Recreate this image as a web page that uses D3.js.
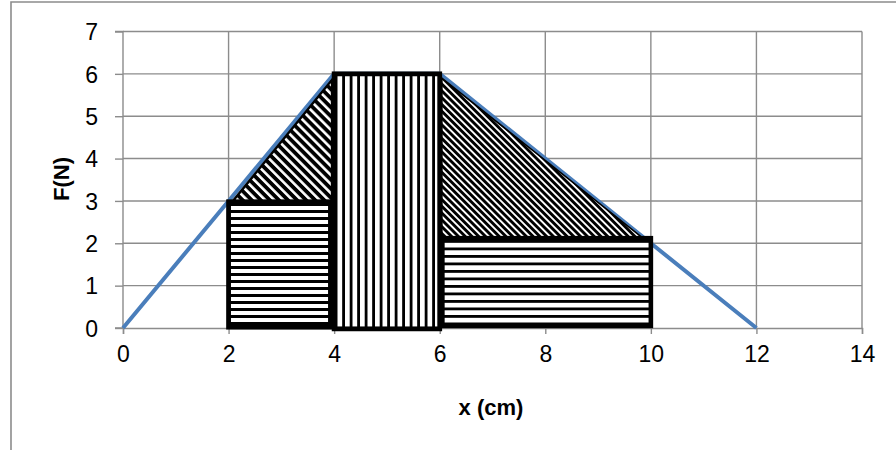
<!DOCTYPE html>
<html>
<head>
<meta charset="utf-8">
<script src="https://cdn.jsdelivr.net/npm/d3@7.9.0/dist/d3.min.js"></script>
<style>
  html, body { margin: 0; padding: 0; background: #fff; }
  svg { display: block; }
  text { font-family: "Liberation Sans", Arial, sans-serif; fill: #000; }
</style>
</head>
<body>
<svg id="chart" width="896" height="450"></svg>
<script>
// axis ticks
const xTicks = [0, 2, 4, 6, 8, 10, 12, 14];
const yTicks = [0, 1, 2, 3, 4, 5, 6, 7];

// F(x) curve, blue line
const forceX = [0, 2, 4, 6, 10, 12];
const forceY = [0, 3, 6, 6, 2, 0];

// hatched pieces (as drawn, in data units)
const rectLeft = { x0: 2, x1: 3.93, y0: 0.02, y1: 2.98 };
const rectMid = { x0: 4, x1: 6, y0: -0.02, y1: 6 };
const rectRight = { x0: 6.05, x1: 10, y0: 0.05, y1: 2.12 };
const triLeft = [[2.07, 2.98], [3.96, 5.86], [3.96, 2.98]];
const triRight = [[6.04, 5.9], [9.85, 2.12], [6.04, 2.12]];

const svg = d3.select('#chart');
const W = 896, H = 450;

const x = d3.scaleLinear().domain([0, 14]).range([123, 862]);
const y = d3.scaleLinear().domain([0, 7]).range([328, 31.5]);

const grid = '#8c8c8c';
const font = '"Liberation Sans", Arial, sans-serif';

// outer chart frame (only left and top are visible)
svg.append('path')
  .attr('d', `M11,${H} L11,2 L${W},2`)
  .attr('fill', 'none')
  .attr('stroke', grid)
  .attr('stroke-width', 1.6);

// hatch patterns
const defs = svg.append('defs');

function linePattern(id, size, width, angle, crisp) {
  const p = defs.append('pattern')
    .attr('id', id)
    .attr('patternUnits', 'userSpaceOnUse')
    .attr('width', size)
    .attr('height', size)
    .attr('patternTransform', `rotate(${angle})`);
  p.append('rect').attr('width', size).attr('height', size).attr('fill', '#fff');
  p.append('rect').attr('width', size).attr('height', width).attr('fill', '#000')
    .attr('shape-rendering', crisp ? 'crispEdges' : 'auto');
}

linePattern('hatch-h1', 7, 3, 0, true);
linePattern('hatch-h2', 7.5, 2.5, 0, true);
linePattern('hatch-v', 7.5, 2.5, 90, true);
linePattern('hatch-d1', 6.4, 3.8, 45, false);
linePattern('hatch-d2', 4.8, 2.9, 45, false);

// gridlines
svg.append('g')
  .selectAll('line')
  .data(yTicks.filter((d) => d > 0))
  .join('line')
  .attr('x1', x(0)).attr('x2', x(14))
  .attr('y1', (d) => y(d)).attr('y2', (d) => y(d))
  .attr('stroke', grid).attr('stroke-width', 1.4);

svg.append('g')
  .selectAll('line')
  .data(xTicks.filter((d) => d > 0))
  .join('line')
  .attr('x1', (d) => x(d)).attr('x2', (d) => x(d))
  .attr('y1', y(0)).attr('y2', y(7))
  .attr('stroke', grid).attr('stroke-width', 1.4);

// axes
const xAxis = d3.axisBottom(x).tickValues(xTicks).tickFormat(d3.format('d')).tickSize(6).tickPadding(12);
const yAxis = d3.axisLeft(y).tickValues(yTicks).tickFormat(d3.format('d')).tickSize(8).tickPadding(17);

const gx = svg.append('g').attr('transform', `translate(0,${y(0)})`).call(xAxis);
const gy = svg.append('g').attr('transform', `translate(${x(0)},0)`).call(yAxis);

[gx, gy].forEach((g) => {
  g.attr('font-size', 23).attr('font-family', font);
  g.select('.domain').attr('stroke', grid).attr('stroke-width', 1.4);
  g.selectAll('.tick line').attr('stroke', grid).attr('stroke-width', 1.4);
  g.selectAll('.tick text').attr('fill', '#000');
});
gy.select('.domain').attr('d', `M-8,${y(7)}H0V${y(0)}H-8`);
gy.selectAll('.tick text').attr('dy', '0.36em');

// blue force line
const line = d3.line().x((d) => x(d[0])).y((d) => y(d[1]));
svg.append('path')
  .datum(d3.zip(forceX, forceY))
  .attr('d', line)
  .attr('fill', 'none')
  .attr('stroke', '#4a7ebb')
  .attr('stroke-width', 4);

// hatched pieces
function drawRect(r, fill, sw) {
  svg.append('rect')
    .attr('x', x(r.x0))
    .attr('y', y(r.y1))
    .attr('width', x(r.x1) - x(r.x0))
    .attr('height', y(r.y0) - y(r.y1))
    .attr('fill', fill)
    .attr('stroke', '#000')
    .attr('stroke-width', sw);
}

function drawTri(pts, fill, sw) {
  svg.append('path')
    .attr('d', line(pts) + 'Z')
    .attr('fill', fill)
    .attr('stroke', '#000')
    .attr('stroke-width', sw)
    .attr('stroke-linejoin', 'miter');
}

drawTri(triLeft, 'url(#hatch-d1)', 2.4);
drawTri(triRight, 'url(#hatch-d2)', 1.6);
drawRect(rectLeft, 'url(#hatch-h1)', 4.8);
drawRect(rectRight, 'url(#hatch-h2)', 4.6);
drawRect(rectMid, 'url(#hatch-v)', 4.8);

// axis titles
svg.append('text')
  .attr('x', 491)
  .attr('y', 415)
  .attr('text-anchor', 'middle')
  .attr('font-size', 22)
  .attr('font-weight', 'bold')
  .text('x (cm)');

svg.append('text')
  .attr('transform', `translate(69,179) rotate(-90)`)
  .attr('text-anchor', 'middle')
  .attr('font-size', 22)
  .attr('font-weight', 'bold')
  .text('F(N)');
</script>
</body>
</html>
